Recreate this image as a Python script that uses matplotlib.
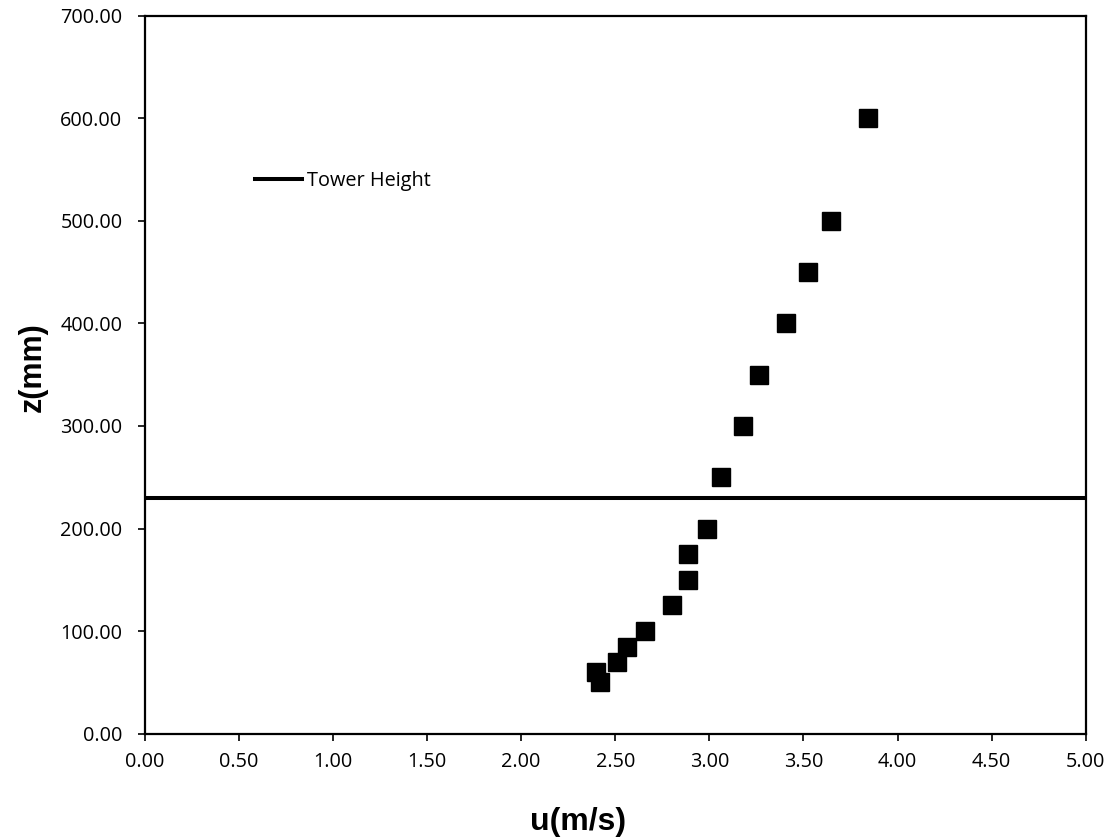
import matplotlib
matplotlib.use("Agg")
import matplotlib.pyplot as plt
from matplotlib.ticker import FormatStrFormatter

u_vals = [2.42, 2.40, 2.51, 2.56, 2.66, 2.80, 2.885, 2.885, 2.99, 3.06, 3.18, 3.265, 3.405, 3.525, 3.645, 3.845]
z_vals = [50, 60, 70, 85, 100, 125, 150, 175, 200, 250, 300, 350, 400, 450, 500, 600]
tower_height = 230
x_ticks = [0, 0.5, 1, 1.5, 2, 2.5, 3, 3.5, 4, 4.5, 5]
y_ticks = [0, 100, 200, 300, 400, 500, 600, 700]

plt.rcParams['font.family'] = ['Open Sans', 'DejaVu Sans']

fig = plt.figure(figsize=(11.07, 8.39), dpi=100)
ax = fig.add_axes([0.1307, 0.1255, 0.8501, 0.8558])

ax.plot(u_vals, z_vals, linestyle='none', marker='s', markersize=13,
        color='black', zorder=3)
ax.axhline(tower_height, color='black', linewidth=2.9, label='Tower Height')

ax.set_xlim(0, 5)
ax.set_ylim(0, 700)
ax.set_xticks(x_ticks)
ax.set_yticks(y_ticks)
ax.xaxis.set_major_formatter(FormatStrFormatter('%.2f'))
ax.yaxis.set_major_formatter(FormatStrFormatter('%.2f'))
ax.tick_params(axis='both', direction='out', length=5, width=1.2,
               labelsize=14.3, colors='black', top=False, right=False)
ax.tick_params(axis='y', pad=11)
ax.tick_params(axis='x', pad=8)
for s in ax.spines.values():
    s.set_linewidth(1.6)

ax.set_xlabel('u(m/s)', fontsize=23, fontweight='bold', family='Liberation Sans')
ax.xaxis.label.set_va('center')
ax.xaxis.set_label_coords(0.4605, -0.123)
ax.set_ylabel('z(mm)', fontsize=22, fontweight='bold', family='Liberation Sans')
ax.yaxis.label.set_va('center')
ax.yaxis.set_label_coords(-0.1187, 0.511)

leg = ax.legend(loc='center left', bbox_to_anchor=(0.1172, 0.7698), frameon=False,
                handlelength=2.35, handletextpad=0.25, borderpad=0, borderaxespad=0,
                prop={'family': 'Open Sans', 'size': 14.3})

fig.savefig('out.png', dpi=100)
